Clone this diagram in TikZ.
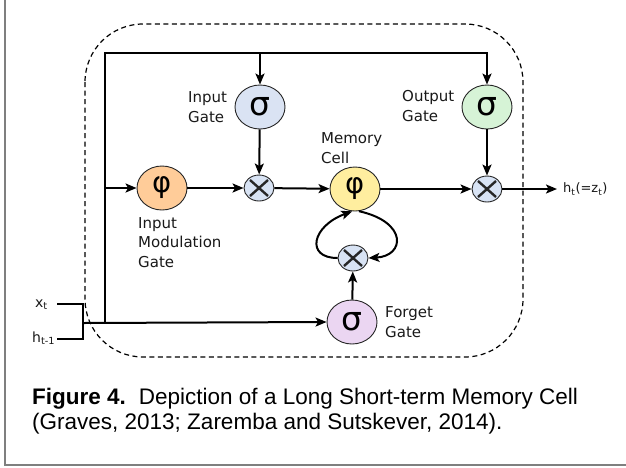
\documentclass[tikz,border=0pt]{standalone}
\usepackage{fontspec}
\setmainfont{Liberation Sans}
\newfontfamily\djv{DejaVu Sans}
\usetikzlibrary{shapes.geometric,arrows.meta}
\definecolor{inblue}{HTML}{DAE3F3}
\definecolor{modorange}{HTML}{FFCC99}
\definecolor{memyellow}{HTML}{FFEE9F}
\definecolor{outgreen}{HTML}{D6F3D6}
\definecolor{forgetpurple}{HTML}{EBD6F2}
\definecolor{multblue}{HTML}{D8E3F4}
\definecolor{framegray}{HTML}{7F7F7F}
\begin{document}
\begin{tikzpicture}[x=1pt,y=-1pt,
  conn/.style={line width=2pt,-{Stealth[length=11pt,width=9pt,inset=2.5pt]}},
  wire/.style={line width=2pt},
  gate/.style={ellipse,draw=black!85,line width=0.9pt,minimum width=50pt,minimum height=44pt,inner sep=0pt},
  sig/.style={gate,font=\djv\fontsize{33}{33}\selectfont},
  phi/.style={gate,font=\djv\fontsize{29}{29}\selectfont},
  mult/.style={ellipse,draw=black!85,line width=0.9pt,fill=multblue,minimum width=30pt,minimum height=26pt,inner sep=0pt,
    path picture={\draw[line width=2.4pt]
      ([shift={(-9pt,-8pt)}]path picture bounding box.center) -- ([shift={(9pt,8pt)}]path picture bounding box.center)
      ([shift={(-9pt,8pt)}]path picture bounding box.center) -- ([shift={(9pt,-8pt)}]path picture bounding box.center);}},
  lbl/.style={font=\djv\fontsize{15}{19.5}\selectfont,align=left,inner sep=0pt,anchor=base west,text=black!90},
  io/.style={font=\djv\fontsize{14}{14}\selectfont,inner sep=0pt,text=black!90},
  captext/.style={font=\fontsize{22.5}{25}\selectfont,align=left,inner sep=0pt,anchor=base west}
]
\useasboundingbox (0,0) rectangle (626,467);
\fill[white] (0,0) rectangle (626,467);
% frame
\draw[framegray,line width=1.5pt] (5,0) -- (5,465) -- (626,465);
% dashed cell border
\draw[line width=1.2pt,dash pattern=on 5pt off 3.5pt,rounded corners=58pt] (85,24) rectangle (523,357);

% nodes
\node[sig,fill=inblue] (ig) at (260,107) {σ};
\node[phi,fill=modorange] (im) at (162,188) {φ};
\node[mult] (m1) at (259,188) {};
\node[phi,fill=memyellow] (mc) at (355,189) {φ};
\node[sig,fill=outgreen] (og) at (487,107) {σ};
\node[mult] (m2) at (487,189) {};
\node[mult] (m3) at (353,258) {};
\node[sig,fill=forgetpurple] (fg) at (352,322) {σ};

% labels (base = baseline of last line)
\node[lbl] (lig) at (188,122) {Input\\Gate};
\node[lbl] (log) at (402,121) {Output\\Gate};
\node[lbl] (lmc) at (321,163) {Memory\\Cell};
\node[lbl] (lim) at (138,267) {Input\\Modulation\\Gate};
\node[lbl] (lfg) at (385,337) {Forget\\Gate};
\node[io,anchor=base west] (xt) at (35,307) {x\textsubscript{t}};
\node[io,anchor=base west] (ht) at (32,342) {h\textsubscript{t-1}};
\node[io,anchor=west,font=\djv\fontsize{13}{13}\selectfont] (hout) at (563,189) {h\textsubscript{t}(=z\textsubscript{t})};

% coordinates
\coordinate (tl) at (105,53);
\coordinate (tr) at (487,53);
\coordinate (bl) at (105,323);
\coordinate (bx) at (83,323);
\coordinate (bk1) at (83,304);
\coordinate (bk2) at (83,339);
\coordinate (bxt) at (57,304);
\coordinate (bht) at (57,339);
\coordinate (out) at (557,189);

% connectors
\draw[wire] (bxt) -- (bk1) -- (bk2) -- (bht);
\draw[conn] (bx) -- (fg.west);
\draw[conn] (bl) -- (tl) -- (tr) -- (og.north);
\draw[conn] (ig.north |- tl) -- (ig.north);
\draw[conn] (im.west -| tl) -- (im.west);
\draw[conn] (im) -- (m1);
\draw[conn] (ig) -- (m1);
\draw[conn] (m1) -- (mc);
\draw[conn] (mc) -- (m2);
\draw[conn] (og) -- (m2);
\draw[conn] (m2) -- (out);
\draw[conn] (fg) -- (m3);
\draw[conn] (m3.west) .. controls (305,258) and (312,226) .. (mc.-97);
\draw[conn] (mc.-80) .. controls (408,222) and (405,256) .. (m3.east);

% caption
\node[captext] (caption) at (32,429) {\textbf{Figure 4.}\hspace{13pt}Depiction of a Long Short-term Memory Cell\\(Graves, 2013; Zaremba and Sutskever, 2014).};
\end{tikzpicture}
\end{document}
